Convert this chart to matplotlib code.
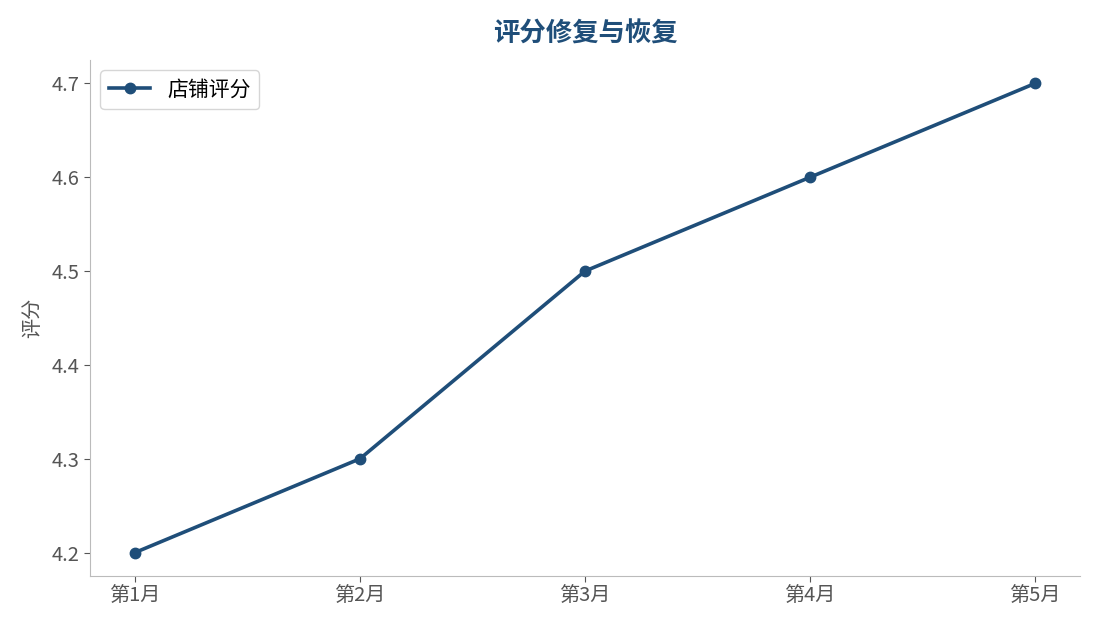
import matplotlib
matplotlib.use("Agg")
import matplotlib.pyplot as plt

plt.rcParams['font.family'] = ['Noto Sans CJK SC', 'DejaVu Sans']

months = ["第1月", "第2月", "第3月", "第4月", "第5月"]
ratings = [4.2, 4.3, 4.5, 4.6, 4.7]
series_name = "店铺评分"
title = "评分修复与恢复"
ylabel = "评分"

color = "#1f4e79"
fig = plt.figure(figsize=(10.95, 6.29), dpi=100)
ax = fig.add_axes([90/1095, 1-576/629, 990/1095, 516/629])
ax.plot(months, ratings, color=color, linewidth=2.6, marker='o', markersize=7.5, label=series_name)

ax.set_title(title, fontsize=19, fontweight='bold', color=color, pad=13)
ax.set_ylabel(ylabel, fontsize=14.5, color='#555555', labelpad=6)
ax.set_yticks([4.2, 4.3, 4.4, 4.5, 4.6, 4.7])
ax.tick_params(axis='both', colors='#555555', labelsize=14.5, length=4)
for s in ['top', 'right']:
    ax.spines[s].set_visible(False)
for s in ['left', 'bottom']:
    ax.spines[s].set_color('#bbbbbb')
leg = ax.legend(loc='upper left', fontsize=15, frameon=True, fancybox=True)
leg.get_frame().set_edgecolor('#cccccc')

fig.savefig("out.png", dpi=100)
